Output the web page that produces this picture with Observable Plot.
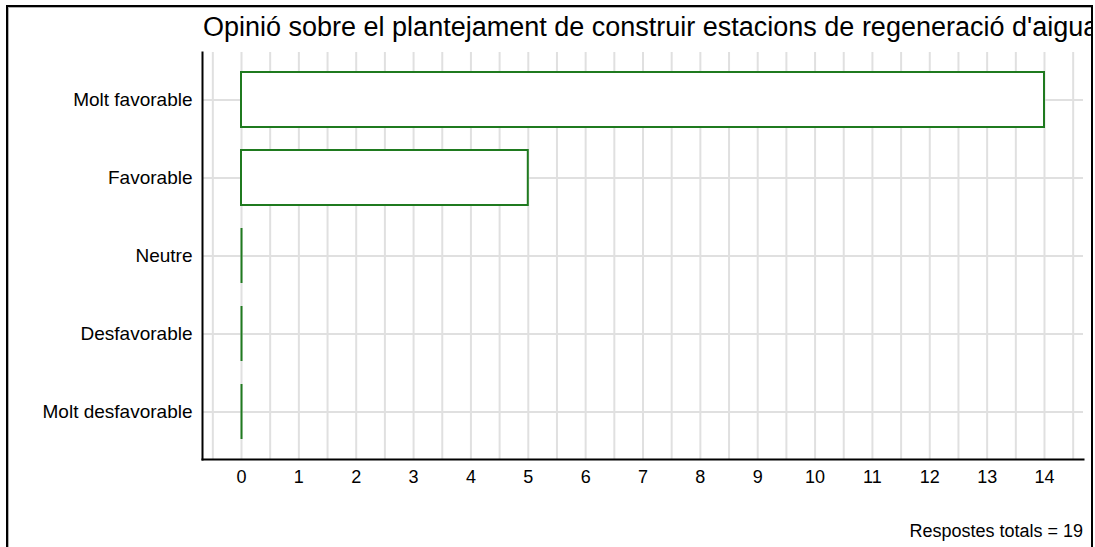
<!DOCTYPE html>
<html>
<head>
<meta charset="utf-8">
<script src="https://cdn.jsdelivr.net/npm/d3@7"></script>
<script src="https://cdn.jsdelivr.net/npm/@observablehq/plot@0.6"></script>
<style>
  html, body { margin: 0; padding: 0; background: #fff; }
  body { width: 1095px; height: 547px; overflow: hidden; position: relative; font-family: "Liberation Sans", Arial, sans-serif; }
  #frame { position: absolute; left: 6px; top: 5px; width: 1083px; height: 600px; border: 2px solid #000; overflow: hidden; box-shadow: inset 1px 1px 0 #b0b0b0; }
  #title { position: absolute; left: 195px; top: 7px; font-size: 27px; line-height: 27px; white-space: nowrap; color: #000; }
  #chart { position: absolute; left: -8px; top: 39px; }
  #chart svg { max-width: none !important; }
  #chart g[aria-label^="y-axis"] text { font-size: 19px !important; }
  #caption { position: absolute; left: 0; width: 1075px; top: 515px; font-size: 18px; line-height: 18px; text-align: right; color: #000; }
</style>
</head>
<body>
<div id="frame">
  <div id="title"></div>
  <div id="chart"></div>
  <div id="caption"></div>
</div>
<script>
const titleText = "Opinió sobre el plantejament de construir estacions de regeneració d'aigua";
const categories = ["Molt favorable", "Favorable", "Neutre", "Desfavorable", "Molt desfavorable"];
const values = [14, 5, 0, 0, 0];
const xTicks = [0, 1, 2, 3, 4, 5, 6, 7, 8, 9, 10, 11, 12, 13, 14];
const xGrid = [-0.5, 0, 0.5, 1, 1.5, 2, 2.5, 3, 3.5, 4, 4.5, 5, 5.5, 6, 6.5, 7, 7.5, 8, 8.5, 9, 9.5, 10, 10.5, 11, 11.5, 12, 12.5, 13, 13.5, 14, 14.5];
const xDomain = [-0.68, 14.68];
const totalResponses = 19;

const green = "#1f7a1f";
const gridColor = "#e0e0e0";

const data = categories.map((c, i) => ({cat: c, value: values[i]}));

document.getElementById("title").textContent = titleText;
document.getElementById("caption").textContent = "Respostes totals = " + totalResponses;

const chart = Plot.plot({
  width: 1095,
  height: 450,
  marginLeft: 202,
  marginRight: 12,
  marginTop: 6,
  marginBottom: 37,
  style: {fontFamily: "'Liberation Sans', Arial, sans-serif", fontSize: "18px", color: "#000", background: "transparent", maxWidth: "none"},
  x: {domain: xDomain, ticks: xTicks, tickSize: 0, tickPadding: 11, tickFormat: d => String(d), label: null},
  y: {domain: categories, type: "band", paddingInner: 0.3, paddingOuter: 0.25, tickSize: 0, tickPadding: 10, label: null},
  marks: [
    Plot.ruleX(xGrid, {stroke: gridColor, strokeWidth: 2}),
    Plot.ruleY(categories, {stroke: gridColor, strokeWidth: 2}),
    Plot.barX(data, {x1: 0, x2: "value", y: "cat", fill: "white", stroke: green, strokeWidth: 2}),
    Plot.tickX(data.filter(d => d.value === 0), {x: "value", y: "cat", stroke: green, strokeWidth: 2}),
    Plot.frame({anchor: "left", stroke: "#000", strokeWidth: 2}),
    Plot.frame({anchor: "bottom", stroke: "#000", strokeWidth: 2})
  ]
});
document.getElementById("chart").appendChild(chart);
</script>
</body>
</html>
